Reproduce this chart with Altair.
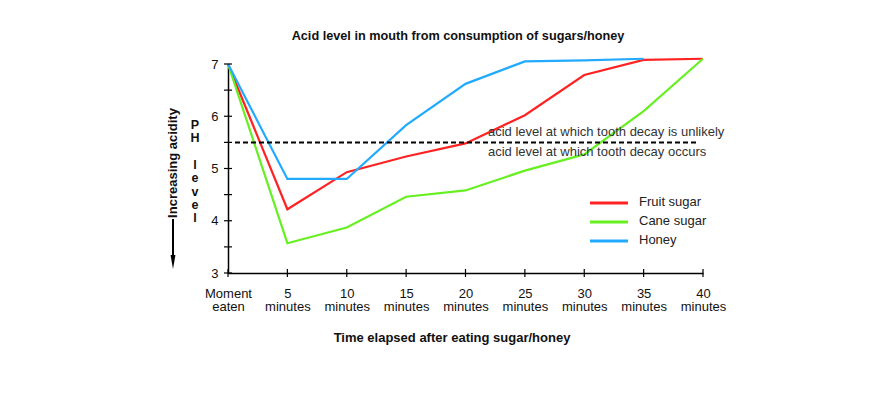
import json
import altair as alt
import pandas as pd

# ---- data ----
minutes = [0, 5, 10, 15, 20, 25, 30, 35, 40]
fruit_sugar = [7.0, 4.22, 4.93, 5.23, 5.48, 6.02, 6.79, 7.08, 7.1]
cane_sugar = [7.0, 3.57, 3.87, 4.46, 4.58, 4.96, 5.27, 6.1, 7.1]
honey = [7.0, 4.8, 4.8, 5.83, 6.62, 7.05, 7.07, 7.1, None]

series_names = ["Fruit sugar", "Cane sugar", "Honey"]
series_colors = ["#ff2222", "#66f022", "#22aaff"]

x_label_top = ["Moment", "5", "10", "15", "20", "25", "30", "35", "40"]
x_label_bottom = ["eaten", "minutes", "minutes", "minutes", "minutes",
                  "minutes", "minutes", "minutes", "minutes"]
y_labels = [3, 4, 5, 6, 7]
y_minor_ticks = [3, 3.5, 4, 4.5, 5, 5.5, 6, 6.5, 7]
threshold = 5.5

title_text = "Acid level in mouth from consumption of sugars/honey"
x_title = "Time elapsed after eating sugar/honey"
y_title_word1 = ["P", "H"]
y_title_word2 = ["l", "e", "v", "e", "l"]
arrow_text = "Increasing acidity"
note_above = "acid level at which tooth decay is unlikely"
note_below = "acid level at which tooth decay occurs"

FONT = "Liberation Sans"
W, H = 475, 209

rows = []
for name, vals in zip(series_names, [fruit_sugar, cane_sugar, honey]):
    for m, v in zip(minutes, vals):
        if v is not None:
            rows.append({"minute": m, "ph": v, "series": name})
df = pd.DataFrame(rows)

pairs = [[a, b] for a, b in zip(x_label_top, x_label_bottom)]
label_expr = f"{json.dumps(pairs)}[datum.value / 5]"

x_enc = alt.X("minute:Q", scale=alt.Scale(domain=[0, 40], nice=False),
              axis=alt.Axis(values=minutes, labelExpr=label_expr, ticks=False,
                            grid=False, domainColor="black", domainWidth=1.5,
                            labelFont=FONT, labelFontSize=13, labelColor="#111",
                            labelPadding=14, labelLineHeight=13.5, title=None,
                            labelOverlap=False, labelBound=False, labelFlush=False))
y_enc = alt.Y("ph:Q", scale=alt.Scale(domain=[3, 7], nice=False),
              axis=alt.Axis(values=y_labels, format="d", ticks=False, grid=False,
                            domainColor="black", domainWidth=1.5,
                            labelFont=FONT, labelFontSize=13, labelColor="#111",
                            labelPadding=10, title=None, labelFlush=False))

lines = alt.Chart(df).mark_line(strokeWidth=2.2).encode(
    x=x_enc, y=y_enc,
    color=alt.Color("series:N", scale=alt.Scale(domain=series_names, range=series_colors),
                    legend=None),
    detail="series:N",
)

xt = alt.Chart(pd.DataFrame({"minute": minutes})).mark_rule(color="black", strokeWidth=1.2).encode(
    x="minute:Q", y=alt.value(H - 4), y2=alt.value(H + 4))
yt = alt.Chart(pd.DataFrame({"ph": y_minor_ticks})).mark_rule(color="black", strokeWidth=1.2).encode(
    y="ph:Q", x=alt.value(-4), x2=alt.value(4))

thr = alt.Chart(pd.DataFrame({"ph": [threshold]})).mark_rule(
    color="black", strokeWidth=2, strokeDash=[5, 3]).encode(
    y="ph:Q", x=alt.value(7), x2=alt.value(470))

notes = alt.Chart(pd.DataFrame({"ph": [threshold], "t1": [note_above], "t2": [note_below]}))
note1 = notes.mark_text(align="left", baseline="alphabetic", dy=-6, font=FONT,
                        fontSize=13, color="#333").encode(
    y="ph:Q", x=alt.value(260), text="t1:N")
note2 = notes.mark_text(align="left", baseline="alphabetic", dy=14, font=FONT,
                        fontSize=13, color="#333").encode(
    y="ph:Q", x=alt.value(260), text="t2:N")

# legend
legend_layers = []
for i, (name, col) in enumerate(zip(series_names, series_colors)):
    yy = 139 + 19 * i
    legend_layers.append(
        alt.Chart(pd.DataFrame({"s": [name]})).mark_rule(color=col, strokeWidth=3).encode(
            x=alt.value(362), x2=alt.value(400), y=alt.value(yy)))
    legend_layers.append(
        alt.Chart(pd.DataFrame({"s": [name]})).mark_text(
            align="left", baseline="middle", font=FONT, fontSize=13, color="#222").encode(
            x=alt.value(411), y=alt.value(yy - 1), text="s:N"))

one = pd.DataFrame({"a": [0]})
title = alt.Chart(one).mark_text(font=FONT, fontSize=12.7, fontWeight="bold",
                                 align="center", baseline="middle", color="#111").encode(
    x=alt.value(230), y=alt.value(-28), text=alt.value(title_text))
xtitle = alt.Chart(one).mark_text(font=FONT, fontSize=13, fontWeight="bold",
                                  align="center", baseline="middle", color="#111").encode(
    x=alt.value(224), y=alt.value(274), text=alt.value(x_title))
ph1 = alt.Chart(one).mark_text(font=FONT, fontSize=12.5, fontWeight="bold", lineHeight=13,
                               align="center", baseline="middle", color="#111").encode(
    x=alt.value(-33), y=alt.value(61), text=alt.value(y_title_word1))
ph2 = alt.Chart(one).mark_text(font=FONT, fontSize=12.5, fontWeight="bold", lineHeight=13.3,
                               align="center", baseline="middle", color="#111").encode(
    x=alt.value(-33), y=alt.value(101), text=alt.value(y_title_word2))
acid = alt.Chart(one).mark_text(font=FONT, fontSize=13, fontWeight="bold", angle=270,
                                align="center", baseline="middle", color="#111").encode(
    x=alt.value(-55), y=alt.value(99), text=alt.value(arrow_text))
shaft = alt.Chart(one).mark_rule(color="black", strokeWidth=2).encode(
    x=alt.value(-55), y=alt.value(155), y2=alt.value(193))
head = alt.Chart(one).mark_point(shape="M-0.35,-1L0.35,-1L0,1Z", filled=True,
                                 color="black", opacity=1, size=196).encode(
    x=alt.value(-55), y=alt.value(198))

chart = alt.layer(
    lines, xt, yt, thr, note1, note2, *legend_layers, title, xtitle, ph1, ph2, acid, shaft, head
).properties(
    width=W, height=H,
    autosize=alt.AutoSizeParams(type="none"),
    padding={"left": 220, "top": 56, "right": 160, "bottom": 110},
    background="white",
).configure_view(stroke=None)

chart.save("out.html", embed_options={"renderer": "svg", "actions": False})
